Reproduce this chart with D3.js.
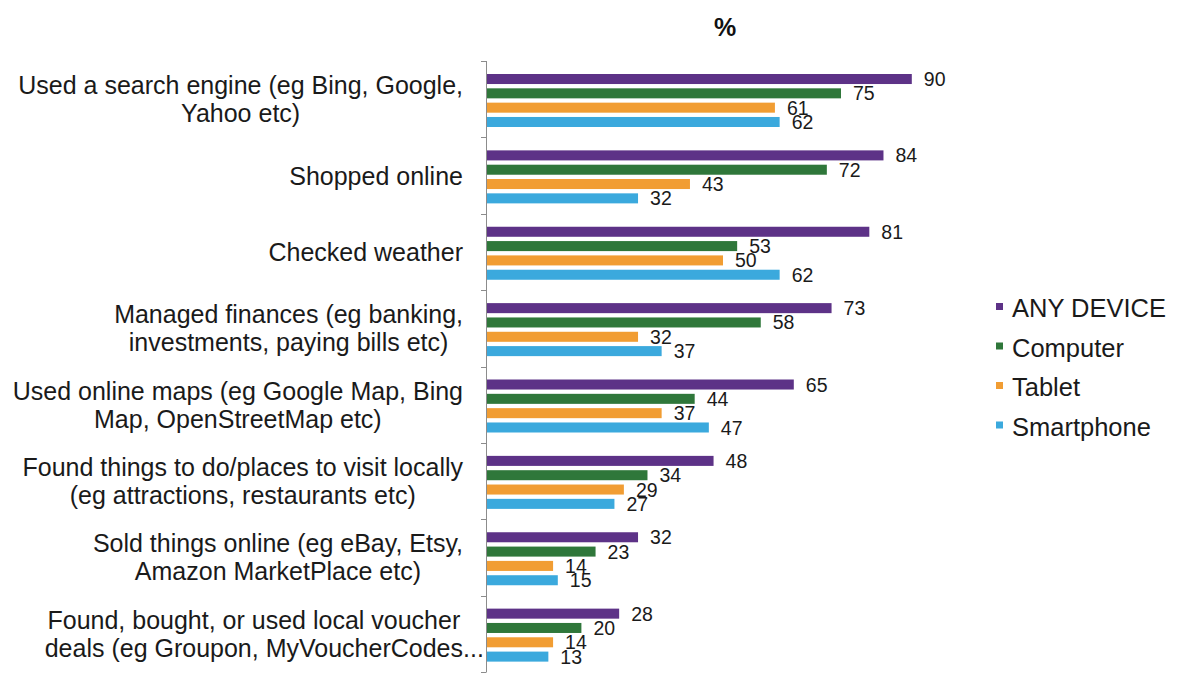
<!DOCTYPE html>
<html>
<head>
<meta charset="utf-8">
<script src="https://cdn.jsdelivr.net/npm/d3@7"></script>
<style>
  html, body { margin: 0; padding: 0; background: #ffffff; }
  svg { display: block; font-family: "Liberation Sans", Arial, sans-serif; }
</style>
</head>
<body>
<svg id="chart" width="1181" height="675"></svg>
<script>
// Online activities by device, share of respondents (%)
const categories = [
  "Used a search engine (eg Bing, Google, Yahoo etc)",
  "Shopped online",
  "Checked weather",
  "Managed finances (eg banking, investments, paying bills etc)",
  "Used online maps (eg Google Map, Bing Map, OpenStreetMap etc)",
  "Found things to do/places to visit locally (eg attractions, restaurants etc)",
  "Sold things online  (eg eBay, Etsy, Amazon MarketPlace etc)",
  "Found, bought, or used local voucher deals (eg Groupon, MyVoucherCodes..."
];
// How each category label wraps onto lines
const categoryLines = [
  ["Used a search engine (eg Bing, Google,", "Yahoo etc)"],
  ["Shopped online"],
  ["Checked weather"],
  ["Managed finances (eg banking,", "investments, paying bills etc)"],
  ["Used online maps (eg Google Map, Bing", "Map, OpenStreetMap etc)"],
  ["Found things to do/places to visit locally", "(eg attractions, restaurants etc)"],
  ["Sold things online  (eg eBay, Etsy,", "Amazon MarketPlace etc)"],
  ["Found, bought, or used local voucher", "deals (eg Groupon, MyVoucherCodes..."]
];

const seriesNames = ["ANY DEVICE", "Computer", "Tablet", "Smartphone"];
const anyDevice  = [90, 84, 81, 73, 65, 48, 32, 28];
const computer   = [75, 72, 53, 58, 44, 34, 23, 20];
const tablet     = [61, 43, 50, 32, 37, 29, 14, 14];
const smartphone = [62, 32, 62, 37, 47, 27, 15, 13];
const seriesColors = ["#5d3287", "#2f773a", "#f19d33", "#3ba9dd"];

const seriesValues = [anyDevice, computer, tablet, smartphone];

const svg = d3.select("#chart");

const x = d3.scaleLinear().domain([0, 100]).range([487, 959]);
const y0 = d3.scaleBand().domain(categories).range([61, 672]);
const y1 = d3.scaleBand().domain(seriesNames).range([13, 66]).paddingInner(0.3);
const color = d3.scaleOrdinal().domain(seriesNames).range(seriesColors);

// Title
svg.append("text")
  .attr("x", 725).attr("y", 36)
  .attr("text-anchor", "middle")
  .attr("font-size", 25).attr("font-weight", "bold")
  .attr("fill", "#111")
  .text("%");

// Bars
const groups = svg.append("g").selectAll("g")
  .data(categories)
  .join("g")
  .attr("transform", d => `translate(0,${y0(d)})`);

groups.each(function (cat, ci) {
  const g = d3.select(this);
  const rows = seriesNames.map((s, si) => ({ s, v: seriesValues[si][ci] }));
  g.selectAll("rect")
    .data(rows)
    .join("rect")
    .attr("x", x(0))
    .attr("y", d => y1(d.s))
    .attr("width", d => x(d.v) - x(0))
    .attr("height", y1.bandwidth())
    .attr("fill", d => color(d.s));
  g.selectAll("text.val")
    .data(rows)
    .join("text")
    .attr("class", "val")
    .attr("x", d => x(d.v) + 12)
    .attr("y", d => y1(d.s) + y1.bandwidth() / 2)
    .attr("dy", "0.36em")
    .attr("font-size", 19.5)
    .attr("fill", "#1a1a1a")
    .text(d => d.v);
});

// Category axis: vertical line with ticks at band boundaries
const axisG = svg.append("g");
axisG.append("line")
  .attr("x1", 486.5).attr("x2", 486.5)
  .attr("y1", y0.range()[0]).attr("y2", y0.range()[1])
  .attr("stroke", "#8c8c8c").attr("stroke-width", 1);
const boundaries = categories.map(c => y0(c)).concat([y0.range()[1]]);
axisG.selectAll("line.tick")
  .data(boundaries)
  .join("line")
  .attr("class", "tick")
  .attr("x1", 481).attr("x2", 486.5)
  .attr("y1", d => Math.round(d) + 0.5).attr("y2", d => Math.round(d) + 0.5)
  .attr("stroke", "#8c8c8c").attr("stroke-width", 1);

// Category labels: block right-aligned to the axis, lines centred within it
const labelRight = 463;
const labelSize = 25;
const lineHeight = 28;
const labelG = svg.append("g");
categories.forEach((cat, ci) => {
  const lines = categoryLines[ci];
  const cy = y0(cat) + y0.bandwidth() / 2;
  const t = labelG.append("text")
    .attr("font-size", labelSize)
    .attr("fill", "#1a1a1a");
  const spans = lines.map((ln, li) => t.append("tspan")
    .attr("y", cy + (li - (lines.length - 1) / 2) * lineHeight)
    .attr("dy", "0.36em")
    .text(ln));
  // widths excluding a trailing ellipsis, which is allowed to overflow
  const probe = svg.append("text").attr("font-size", labelSize);
  const widths = lines.map(ln => probe.text(ln.replace(/\.\.\.$/, "")).node().getComputedTextLength());
  probe.remove();
  const maxW = d3.max(widths);
  const center = labelRight - maxW / 2;
  spans.forEach((sp, li) => sp.attr("x", center - widths[li] / 2));
});

// Legend
const legend = svg.append("g");
seriesNames.forEach((s, i) => {
  const cy = 308 + i * 39.5;
  legend.append("rect")
    .attr("x", 996).attr("y", cy - 5)
    .attr("width", 7).attr("height", 7)
    .attr("fill", color(s));
  legend.append("text")
    .attr("x", 1012).attr("y", cy)
    .attr("dy", "0.36em")
    .attr("font-size", 25.5)
    .attr("fill", "#1a1a1a")
    .text(s);
});
</script>
</body>
</html>
